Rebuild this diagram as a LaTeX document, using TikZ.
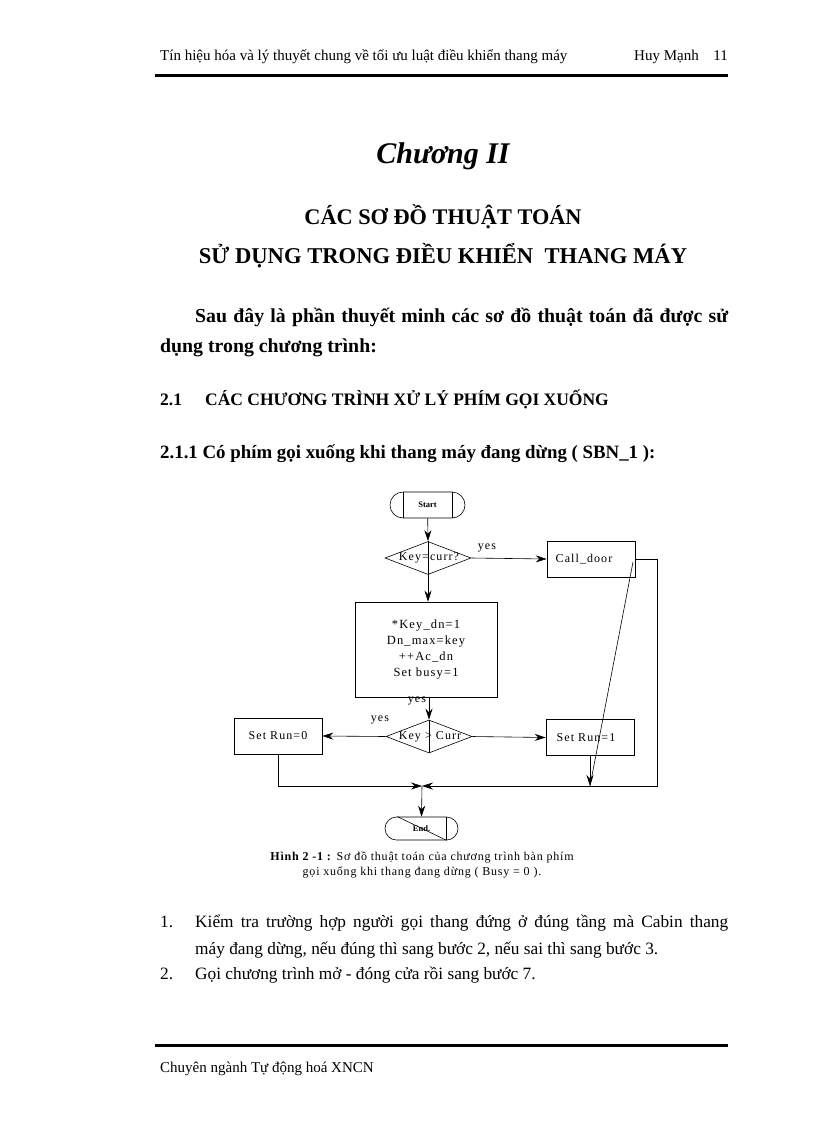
\documentclass[tikz,border=0pt]{standalone}
\usepackage{fontspec}
\setmainfont{Liberation Serif}
\newfontfamily\chartfont[LetterSpace=9]{Liberation Serif}
\newfontfamily\captfont[LetterSpace=6.5]{Liberation Serif}
\usetikzlibrary{positioning, arrows.meta, shapes.geometric, shapes.misc}

\begin{document}
\begin{tikzpicture}[x=1pt, y=-1pt,
    flow/.style={-{Stealth[length=11pt,width=7pt]}, line width=0.6pt},
    link/.style={line width=0.6pt},
    procbox/.style={draw, line width=0.6pt, align=center, inner sep=0pt, font=\chartfont\fontsize{12}{16}\selectfont},
    decide/.style={draw, diamond, line width=0.6pt, minimum width=86pt, minimum height=33pt, inner sep=0pt},
    termbox/.style={draw, rounded rectangle, line width=0.6pt, inner sep=0pt, font=\bfseries\fontsize{8.5}{10}\selectfont},
    chartlab/.style={font=\chartfont\fontsize{12}{14}\selectfont, inner sep=0pt},
    pagetext/.style={anchor=base west, inner sep=0pt}
  ]
  \useasboundingbox (0,0) rectangle (816,1123);

  % page header and footer
  \node[pagetext, font=\fontsize{15}{17}\selectfont] (headtitle) at (160,61) {Tín hiệu hóa và lý thuyết chung về tối ưu luật điều khiển thang máy};
  \node[pagetext, font=\fontsize{15}{17}\selectfont] (headauthor) at (634,61) {Huy Mạnh};
  \node[pagetext, anchor=base east, font=\fontsize{15}{17}\selectfont] (headpage) at (728,61) {11};
  \draw[line width=3pt] (155,76) -- (728,76);
  \draw[line width=3pt] (155,1045) -- (728,1045);
  \node[pagetext, font=\fontsize{15}{17}\selectfont] (foottext) at (160,1072) {Chuyên ngành Tự động hoá XNCN};

  % chapter title
  \node[pagetext, anchor=base, font=\bfseries\itshape\fontsize{30}{34}\selectfont] (chapter) at (443,164) {Chương II};
  \node[pagetext, anchor=base, font=\bfseries\fontsize{22.3}{26}\selectfont] (title1) at (443,225) {CÁC SƠ ĐỒ THUẬT TOÁN};
  \node[pagetext, anchor=base, font=\bfseries\fontsize{22.6}{26}\selectfont] (title2) at (443,263) {SỬ DỤNG TRONG ĐIỀU KHIỂN\ \ THANG MÁY};

  % intro and section heads
  \node[pagetext, font=\bfseries\fontsize{19.8}{22}\selectfont] (intro1) at (195,322) {\makebox[533pt][s]{Sau đây là phần thuyết minh các sơ đồ thuật toán đã được sử}};
  \node[pagetext, font=\bfseries\fontsize{19.8}{22}\selectfont] (intro2) at (160,352) {dụng trong chương trình:};
  \node[pagetext, font=\bfseries\fontsize{17.5}{20}\selectfont] (secnum) at (160,405) {2.1};
  \node[pagetext, font=\bfseries\fontsize{17.5}{20}\selectfont] (sectitle) at (205,405) {CÁC CHƯƠNG TRÌNH XỬ LÝ PHÍM GỌI XUỐNG};
  \node[pagetext, font=\bfseries\fontsize{18.85}{22}\selectfont] (subsec) at (160,458) {2.1.1 Có phím gọi xuống khi thang máy đang dừng ( SBN\_1 ):};

  % flowchart
  \node[termbox, minimum width=75pt, minimum height=26pt] (start) at (427.5,505) {Start};
  \draw[link] ([xshift=-24.5pt]start.north) -- ([xshift=-24.5pt]start.south);
  \draw[link] ([xshift=24.5pt]start.north) -- ([xshift=24.5pt]start.south);

  \node[decide] (askcurr) at (428,558) {};
  \node[chartlab] (askcurrtxt) at (429,558) {Key=curr?};
  \node[procbox, minimum width=88pt, minimum height=36pt] (calldoor) at (591,559) {Call\_door\hspace{14pt}};

  \node[procbox, minimum width=142pt, minimum height=95pt, font=\chartfont\fontsize{12.5}{16}\selectfont] (setkey) at (426,649.5) {*Key\_dn=1\\Dn\_max=key\\++Ac\_dn\\Set busy=1};

  \node[decide] (askdir) at (429,736.5) {};
  \node[chartlab] (askdirtxt) at (430,736.5) {Key > Curr};
  \node[procbox, minimum width=88pt, minimum height=36pt] (runzero) at (278,736) {Set Run=0};
  \node[procbox, minimum width=88pt, minimum height=36pt] (runone) at (590,737.5) {Set Run=1\hspace{8pt}};

  \node[termbox, minimum width=73pt, minimum height=23pt] (finish) at (421.5,828.5) {End.};
  \draw[link] ([xshift=24.5pt]finish.north) -- ([xshift=24.5pt]finish.south);
  \draw[link] ([xshift=-24pt]finish.north) -- ([xshift=25pt]finish.south);

  \coordinate (join) at (422,786);
  \coordinate (leftcorner) at (278,786);
  \coordinate (rightcorner) at (657,786);
  \coordinate (runonefoot) at (590,786);
  \coordinate (slantstart) at (633,562);

  \draw[flow] (start) -- (askcurr.north);
  \draw[link] (askcurr.north) -- (askcurr.south);
  \draw[flow] (askcurr.south) -- (askcurr.south |- setkey.north);
  \draw[flow] (askcurr.east) -- (calldoor.west);
  \draw[flow] (setkey.south -| askdir.north) -- (askdir.north);
  \draw[link] (askdir.north) -- (askdir.south);
  \draw[flow] (askdir.west) -- (runzero.east);
  \draw[flow] (askdir.east) -- (runone.west);
  \draw[flow] (runzero.south) -- (leftcorner) -- (join);
  \draw[flow] (calldoor.east) -| (rightcorner) -- (join);
  \draw[flow] (runone.south) -- (runonefoot);
  \draw[link] (slantstart) -- (runonefoot);
  \draw[flow] (join) -- (finish.north);

  \node[chartlab] (yesone) at (487,548) {yes};
  \node[chartlab] (yestwo) at (417,701) {yes};
  \node[chartlab] (yesthree) at (380,720) {yes};

  % caption
  \node[pagetext, anchor=base, font=\captfont\fontsize{12}{14}\selectfont] (caption1) at (422,860) {\textbf{Hình 2 -1 :} Sơ đồ thuật toán của chương trình bàn phím};
  \node[pagetext, anchor=base, font=\captfont\fontsize{12}{14}\selectfont] (caption2) at (422,875) {gọi xuống khi thang đang dừng ( Busy = 0 ).};

  % steps
  \node[pagetext, font=\fontsize{17.3}{21}\selectfont] (stepnum1) at (160,927) {1.};
  \node[pagetext, font=\fontsize{17.3}{21}\selectfont] (step1a) at (195,927) {\makebox[533pt][s]{Kiểm tra trường hợp người gọi thang đứng ở đúng tầng mà Cabin thang}};
  \node[pagetext, font=\fontsize{17.3}{21}\selectfont] (step1b) at (195,954) {máy đang dừng, nếu đúng thì sang bước 2, nếu sai thì sang bước 3.};
  \node[pagetext, font=\fontsize{17.3}{21}\selectfont] (stepnum2) at (160,979) {2.};
  \node[pagetext, font=\fontsize{17.3}{21}\selectfont] (step2) at (195,979) {Gọi chương trình mở - đóng cửa rồi sang bước 7.};
\end{tikzpicture}
\end{document}
